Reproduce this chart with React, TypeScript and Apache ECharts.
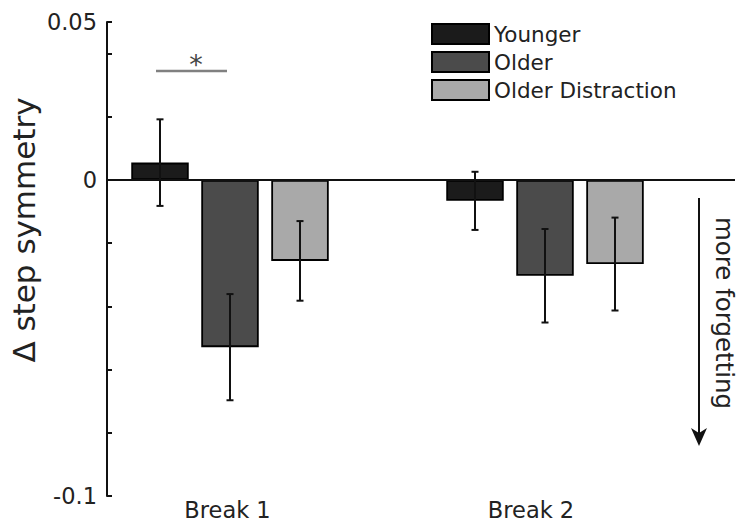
import React, { useEffect, useRef } from "react";
import * as echarts from "echarts";

const categories = ["Break 1", "Break 2"];
const seriesNames = ["Younger", "Older", "Older Distraction"];
const younger = [0.0055, -0.0066];
const youngerErr = [0.0137, 0.0092];
const older = [-0.0529, -0.0303];
const olderErr = [0.0168, 0.0148];
const olderDistraction = [-0.0256, -0.0266];
const olderDistractionErr = [0.0126, 0.0147];
const yTickLabels = [0.05, 0, -0.1];
const yMin = -0.1;
const yMax = 0.05;
const yInterval = 0.02;

const FONT = "DejaVu Sans";
const colors = ["#1b1b1b", "#4b4b4b", "#a9a9a9"];
const barWidthPx = 57.5;
const barGapPx = 12.5;

export default function App() {
  const ref = useRef<HTMLDivElement>(null);
  useEffect(() => {
    if (!ref.current) return;
    const chart = echarts.init(ref.current, null, { renderer: "svg" });
    const values = [younger, older, olderDistraction];
    const errs = [youngerErr, olderErr, olderDistractionErr];

    const barSeries = seriesNames.map((name, k) => ({
      type: "bar",
      name,
      xAxisIndex: 0,
      yAxisIndex: 0,
      data: values[k],
      barWidth: barWidthPx,
      barGap: (barGapPx / barWidthPx) * 100 + "%",
      itemStyle: { color: colors[k], borderColor: "#000", borderWidth: 1.8 },
      z: 2,
    }));

    const errSeries = seriesNames.map((name, k) => ({
      type: "custom",
      name: name + " error",
      xAxisIndex: 0,
      yAxisIndex: 0,
      z: 4,
      data: categories.map((c, i) => [i, values[k][i], errs[k][i]]),
      encode: { x: 0, y: 1 },
      renderItem: (params: any, api: any) => {
        const off = (k - 1) * (barWidthPx + barGapPx);
        const ci = api.value(0);
        const v = api.value(1);
        const e = api.value(2);
        const top = api.coord([ci, v + e]);
        const bot = api.coord([ci, v - e]);
        const x = top[0] + off;
        const cap = 3.5;
        const st = { stroke: "#111", lineWidth: 2 };
        return {
          type: "group",
          children: [
            { type: "line", shape: { x1: x, y1: top[1], x2: x, y2: bot[1] }, style: st },
            { type: "line", shape: { x1: x - cap, y1: top[1], x2: x + cap, y2: top[1] }, style: st },
            { type: "line", shape: { x1: x - cap, y1: bot[1], x2: x + cap, y2: bot[1] }, style: st },
          ],
        };
      },
    }));

    const option: any = {
      animation: false,
      backgroundColor: "#fff",
      textStyle: { fontFamily: FONT },
      legend: {
        data: seriesNames,
        orient: "vertical",
        left: 431,
        top: 23,
        padding: 0,
        itemWidth: 57,
        itemHeight: 20,
        itemGap: 6,
        icon: "rect",
        selectedMode: false,
        textStyle: { fontSize: 21.5, fontFamily: FONT, color: "#222" },
      },
      grid: [
        { left: 72.5, right: 47.5, top: 22, bottom: 33, outerBoundsMode: "none", containLabel: false },
        { left: 107, right: 15, top: 22, bottom: 33, outerBoundsMode: "none", containLabel: false },
      ],
      xAxis: [
        {
          type: "category",
          gridIndex: 0,
          data: categories,
          axisLine: { show: false },
          axisTick: { show: false },
          axisLabel: {
            margin: 2,
            fontSize: 22.5,
            fontFamily: FONT,
            color: "#222",
            formatter: (v: string) => (v === categories[1] ? "{b|" + v + "}" : "{a|" + v + "}"),
            rich: {
              a: { fontSize: 22.5, fontFamily: FONT, color: "#222", padding: [0, 5, 0, 0] },
              b: { fontSize: 22.5, fontFamily: FONT, color: "#222", padding: [0, 28, 0, 0] },
            },
          },
        },
        { type: "value", gridIndex: 1, min: 0, max: 1, show: false },
      ],
      yAxis: [
        {
          type: "value",
          gridIndex: 0,
          min: yMin,
          max: yMax,
          interval: yInterval,
          offset: -34.5,
          splitLine: { show: false },
          axisLine: { show: true, lineStyle: { color: "#111", width: 2 } },
          axisTick: { show: true, inside: true, length: 5, lineStyle: { color: "#111", width: 2 } },
          axisLabel: {
            showMinLabel: true,
            showMaxLabel: true,
            margin: 10,
            fontSize: 22.5,
            fontFamily: FONT,
            color: "#222",
            padding: [0, 0, 8, 0],
            formatter: (v: number) => {
              const hit = yTickLabels.find((t) => Math.abs(t - v) < 1e-9);
              return hit === undefined ? "" : String(hit);
            },
          },
        },
        { type: "value", gridIndex: 1, min: yMin, max: yMax, show: false },
      ],
      series: [
        ...barSeries,
        ...errSeries,
        {
          type: "line",
          name: "zero",
          xAxisIndex: 1,
          yAxisIndex: 1,
          data: [
            [0, 0],
            [1, 0],
          ],
          symbol: "none",
          lineStyle: { color: "#111", width: 2 },
          z: 5,
        },
      ],
      graphic: [
        {
          type: "text",
          x: 24,
          y: 230,
          rotation: Math.PI / 2,
          style: {
            text: "\u0394 step symmetry",
            fontSize: 31,
            fontFamily: FONT,
            fill: "#222",
            textAlign: "center",
            textVerticalAlign: "middle",
          },
        },
        {
          type: "line",
          shape: { x1: 156, y1: 71, x2: 227, y2: 71 },
          style: { stroke: "#808080", lineWidth: 2.5 },
        },
        {
          type: "text",
          x: 196,
          y: 64,
          style: {
            text: "*",
            fontSize: 27,
            fontFamily: FONT,
            fill: "#444",
            textAlign: "center",
            textVerticalAlign: "middle",
          },
        },
        {
          type: "line",
          shape: { x1: 699, y1: 198, x2: 699, y2: 436 },
          style: { stroke: "#111", lineWidth: 2 },
        },
        {
          type: "polygon",
          shape: {
            points: [
              [699, 446],
              [691, 428],
              [699, 433],
              [707, 428],
            ],
          },
          style: { fill: "#111" },
        },
        {
          type: "text",
          x: 724,
          y: 313,
          rotation: -Math.PI / 2,
          style: {
            text: "more forgetting",
            fontSize: 24.5,
            fontFamily: FONT,
            fill: "#222",
            textAlign: "center",
            textVerticalAlign: "middle",
          },
        },
      ],
    };
    chart.setOption(option);
    return () => chart.dispose();
  }, []);
  return (
    <div
      ref={ref}
      style={{ position: "absolute", left: 0, top: 0, width: 750, height: 529 }}
    />
  );
}
